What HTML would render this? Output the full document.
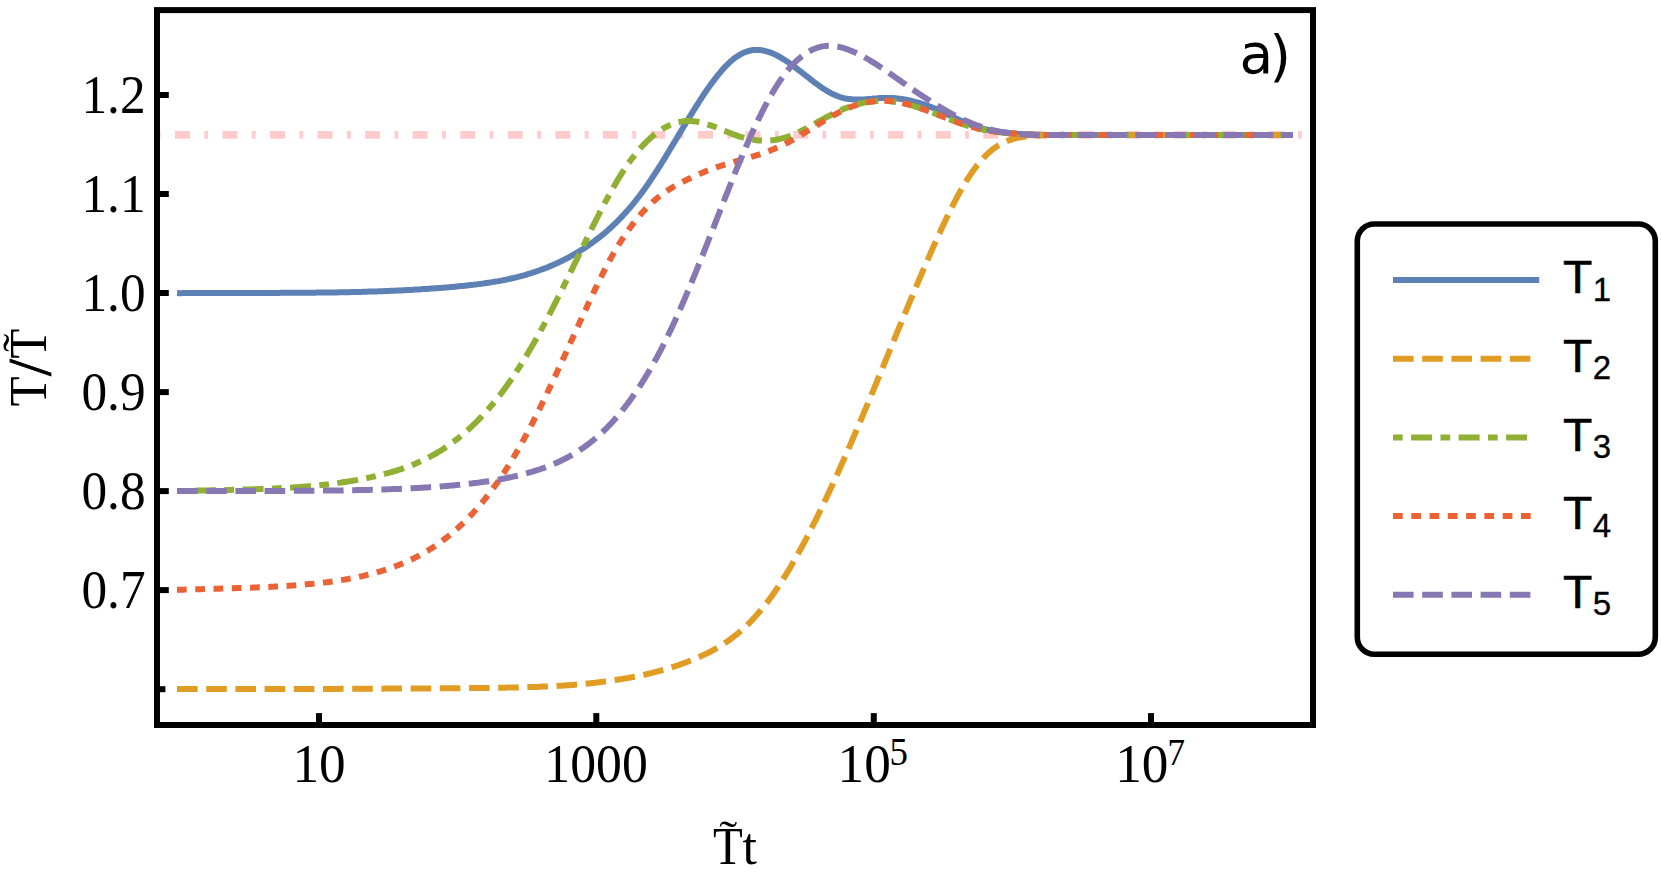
<!DOCTYPE html>
<html><head><meta charset="utf-8"><title>Temperature relaxation plot</title>
<style>
html,body{margin:0;padding:0;background:#fff;}
body{width:1661px;height:879px;overflow:hidden;}
svg{display:block;}
.serif{font-family:"Liberation Serif",serif;fill:#000;}
.sans{font-family:"Liberation Sans",sans-serif;fill:#000;}
</style></head>
<body>
<svg width="1661" height="879" viewBox="0 0 1661 879">
<rect x="0" y="0" width="1661" height="879" fill="#fff"/>
<!-- reference line -->
<g id="refline"><line x1="156.8" y1="134.9" x2="1316" y2="134.9" stroke="#ffcccc" stroke-width="7.6" stroke-dasharray="3.75 14.4 15 14.4"/></g>
<!-- curves -->
<g id="curves" fill="none" stroke-width="6" stroke-linejoin="round">
<!--CURVES-->
<path id="c-blue" d="M177.0 293.1L179.0 293.2 181.0 293.2 183.0 293.1 185.0 293.1 187.0 293.1 189.0 293.1 191.0 293.1 193.0 293.1 195.0 293.0 197.0 293.0 199.0 293.0 201.0 293.0 203.0 293.0 205.0 293.0 207.0 293.0 209.0 293.0 211.0 293.0 213.0 292.9 215.0 292.9 217.0 292.9 219.0 292.9 221.0 292.9 223.0 292.9 225.0 292.9 227.0 292.9 229.0 292.9 231.0 292.9 233.0 292.9 235.0 292.9 237.0 292.9 239.0 292.9 241.0 292.9 243.0 292.9 245.0 292.9 247.0 292.9 249.0 292.9 251.0 292.9 253.0 292.9 255.0 292.9 257.0 292.9 259.0 292.9 261.0 292.9 263.0 292.9 265.0 292.9 267.0 292.9 269.0 292.9 271.0 292.9 273.0 292.9 275.0 292.9 277.0 292.9 279.0 292.9 281.0 292.8 283.0 292.8 285.0 292.8 287.0 292.8 289.0 292.8 291.0 292.8 293.0 292.8 295.0 292.8 297.0 292.8 299.0 292.8 301.0 292.8 303.0 292.8 305.0 292.7 307.0 292.7 309.0 292.7 311.0 292.7 313.0 292.7 315.0 292.7 317.0 292.6 319.0 292.6 321.0 292.6 323.0 292.6 325.0 292.6 327.0 292.5 329.0 292.5 331.0 292.5 333.0 292.4 335.0 292.4 337.0 292.4 339.0 292.3 341.0 292.3 343.0 292.3 345.0 292.2 347.0 292.2 349.0 292.2 351.0 292.1 353.0 292.1 355.0 292.0 357.0 292.0 359.0 291.9 361.0 291.9 363.0 291.8 365.0 291.8 367.0 291.7 369.0 291.6 371.0 291.6 373.0 291.5 375.0 291.4 377.0 291.4 379.0 291.3 381.0 291.2 383.0 291.2 385.0 291.1 387.0 291.0 389.0 290.9 391.0 290.8 393.0 290.8 395.0 290.7 397.0 290.6 399.0 290.5 401.0 290.4 403.0 290.3 405.0 290.2 407.0 290.1 409.0 290.0 410.9 289.9 412.9 289.7 414.9 289.6 416.9 289.5 418.9 289.4 420.9 289.3 422.9 289.1 424.9 289.0 426.9 288.9 428.9 288.7 430.9 288.6 432.9 288.5 434.9 288.3 436.9 288.2 438.9 288.0 440.9 287.9 442.9 287.7 444.9 287.5 446.9 287.4 448.9 287.2 450.8 287.0 452.8 286.9 454.8 286.7 456.8 286.5 458.8 286.3 460.8 286.1 462.8 285.9 464.8 285.7 466.8 285.5 468.8 285.3 470.8 285.1 472.7 284.9 474.7 284.6 476.7 284.4 478.7 284.1 480.7 283.9 482.7 283.6 484.6 283.3 486.6 283.0 488.6 282.7 490.6 282.4 492.5 282.1 494.5 281.8 496.5 281.4 498.5 281.1 500.4 280.7 502.4 280.4 504.4 280.0 506.3 279.6 508.3 279.1 510.2 278.7 512.2 278.3 514.1 277.8 516.1 277.3 518.0 276.9 519.9 276.4 521.9 275.8 523.8 275.3 525.7 274.8 527.6 274.2 529.6 273.6 531.5 273.0 533.4 272.4 535.3 271.8 537.2 271.1 539.0 270.5 540.9 269.8 542.8 269.1 544.7 268.4 546.5 267.7 548.4 266.9 550.2 266.1 552.1 265.4 553.9 264.6 555.7 263.8 557.6 262.9 559.4 262.1 561.2 261.2 563.0 260.3 564.8 259.4 566.5 258.5 568.3 257.6 570.1 256.6 571.8 255.7 573.6 254.7 575.3 253.7 577.0 252.7 578.7 251.6 580.4 250.6 582.1 249.5 583.8 248.5 585.5 247.4 587.1 246.3 588.8 245.1 590.4 244.0 592.1 242.8 593.7 241.6 595.3 240.5 596.9 239.2 598.5 238.0 600.0 236.8 601.6 235.5 603.1 234.3 604.7 233.0 606.2 231.7 607.7 230.4 609.2 229.0 610.7 227.7 612.1 226.3 613.6 225.0 615.0 223.6 616.5 222.2 617.9 220.8 619.3 219.3 620.7 217.9 622.1 216.4 623.4 215.0 624.8 213.5 626.1 212.0 627.4 210.5 628.8 209.0 630.1 207.5 631.4 206.0 632.6 204.5 633.9 202.9 635.2 201.4 636.4 199.8 637.6 198.2 638.9 196.6 640.1 195.0 641.3 193.4 642.5 191.8 643.6 190.2 644.8 188.6 646.0 187.0 647.1 185.3 648.3 183.7 649.4 182.0 650.5 180.4 651.6 178.7 652.7 177.0 653.8 175.4 654.9 173.7 656.0 172.0 657.1 170.3 658.2 168.6 659.2 167.0 660.3 165.3 661.4 163.6 662.4 161.9 663.5 160.2 664.5 158.5 665.6 156.8 666.6 155.1 667.6 153.3 668.7 151.6 669.7 149.9 670.7 148.2 671.8 146.5 672.8 144.8 673.8 143.1 674.9 141.4 675.9 139.6 676.9 137.9 677.9 136.2 679.0 134.5 680.0 132.8 681.0 131.1 682.1 129.3 683.1 127.6 684.1 125.9 685.2 124.2 686.2 122.5 687.2 120.8 688.3 119.1 689.3 117.4 690.4 115.7 691.4 114.0 692.5 112.3 693.5 110.6 694.6 108.9 695.6 107.2 696.7 105.5 697.8 103.8 698.9 102.1 699.9 100.4 701.0 98.8 702.1 97.1 703.2 95.4 704.3 93.8 705.5 92.1 706.6 90.4 707.7 88.8 708.9 87.2 710.0 85.5 711.2 83.9 712.4 82.3 713.6 80.7 714.8 79.1 716.0 77.5 717.3 76.0 718.5 74.4 719.8 72.9 721.1 71.3 722.4 69.8 723.7 68.3 725.1 66.9 726.5 65.4 727.9 64.0 729.4 62.6 730.8 61.3 732.3 60.0 733.9 58.7 735.5 57.5 737.1 56.4 738.8 55.3 740.5 54.3 742.3 53.3 744.1 52.5 746.0 51.8 747.9 51.2 749.8 50.7 751.7 50.3 753.7 50.1 755.7 50.0 757.7 49.9 759.7 50.1 761.7 50.3 763.6 50.6 765.6 51.1 767.5 51.6 769.4 52.2 771.3 52.9 773.1 53.6 775.0 54.5 776.8 55.3 778.5 56.3 780.3 57.2 782.0 58.3 783.7 59.3 785.4 60.4 787.0 61.5 788.7 62.6 790.3 63.8 792.0 65.0 793.6 66.1 795.2 67.3 796.8 68.6 798.3 69.8 799.9 71.0 801.5 72.2 803.1 73.5 804.6 74.7 806.2 75.9 807.8 77.2 809.4 78.4 810.9 79.6 812.5 80.9 814.1 82.1 815.7 83.3 817.3 84.4 819.0 85.6 820.6 86.8 822.2 87.9 823.9 89.0 825.6 90.1 827.3 91.1 829.0 92.1 830.8 93.1 832.6 94.0 834.4 94.8 836.2 95.6 838.1 96.4 839.9 97.0 841.9 97.6 843.8 98.1 845.7 98.5 847.7 98.9 849.7 99.1 851.7 99.3 853.7 99.5 855.7 99.5 857.7 99.6 859.7 99.5 861.7 99.5 863.7 99.4 865.7 99.2 867.7 99.1 869.6 98.9 871.6 98.8 873.6 98.6 875.6 98.4 877.6 98.3 879.6 98.1 881.6 98.0 883.6 98.0 885.6 97.9 887.6 97.9 889.6 97.9 891.6 98.0 893.6 98.1 895.6 98.3 897.6 98.5 899.6 98.7 901.6 99.0 903.5 99.3 905.5 99.6 907.5 100.0 909.4 100.4 911.4 100.8 913.3 101.3 915.2 101.8 917.2 102.3 919.1 102.9 921.0 103.5 922.9 104.1 924.8 104.7 926.7 105.4 928.6 106.1 930.4 106.8 932.3 107.6 934.1 108.3 936.0 109.1 937.8 109.9 939.6 110.7 941.5 111.6 943.3 112.4 945.1 113.3 946.9 114.1 948.7 115.0 950.5 115.8 952.3 116.7 954.1 117.5 955.9 118.4 957.7 119.2 959.6 120.1 961.4 120.9 963.2 121.7 965.0 122.5 966.9 123.2 968.7 124.0 970.6 124.7 972.5 125.4 974.4 126.1 976.3 126.7 978.2 127.3 980.1 127.9 982.0 128.4 984.0 128.9 985.9 129.3 987.9 129.8 989.8 130.2 991.8 130.6 993.8 130.9 995.7 131.3 997.7 131.6 999.7 131.9 1001.7 132.1 1003.6 132.4 1005.6 132.6 1007.6 132.8 1009.6 133.1 1011.6 133.3 1013.6 133.4 1015.6 133.6 1017.6 133.8 1019.6 133.9 1021.6 134.1 1023.6 134.2 1025.6 134.3 1027.6 134.4 1029.6 134.5 1031.5 134.6 1033.5 134.7 1035.5 134.7 1037.5 134.8 1039.5 134.8 1041.5 134.9 1043.5 134.9 1045.5 134.9 1047.5 134.9 1049.5 134.9 1051.5 134.9 1053.5 134.9 1055.5 134.9 1057.5 134.9 1059.5 134.9 1061.5 134.9 1063.5 134.9 1065.5 134.9 1067.5 134.9 1069.5 134.9 1071.5 134.9 1073.5 134.9 1075.5 134.9 1077.5 134.9 1079.5 134.9 1081.5 134.9 1293.0 134.9" stroke="#5e81b5"/>
<path id="c-orange" d="M177.0 689.1L179.0 689.1 181.0 689.1 183.0 689.1 185.0 689.1 187.0 689.1 189.0 689.1 191.0 689.1 193.0 689.1 195.0 689.1 197.0 689.1 199.0 689.1 201.0 689.1 203.0 689.1 205.0 689.1 207.0 689.1 209.0 689.1 211.0 689.1 213.0 689.1 215.0 689.1 217.0 689.1 219.0 689.1 221.0 689.1 223.0 689.1 225.0 689.1 227.0 689.1 229.0 689.1 231.0 689.1 233.0 689.1 235.0 689.1 237.0 689.1 239.0 689.1 241.0 689.1 243.0 689.1 245.0 689.1 247.0 689.1 249.0 689.1 251.0 689.1 253.0 689.1 255.0 689.1 257.0 689.1 259.0 689.0 261.0 689.0 263.0 689.0 265.0 689.0 267.0 689.0 269.0 689.0 271.0 689.0 273.0 689.0 275.0 689.0 277.0 689.0 279.0 689.0 281.0 689.0 283.0 689.0 285.0 689.0 287.0 689.0 289.0 689.0 291.0 689.0 293.0 689.0 295.0 689.0 297.0 689.0 299.0 689.0 301.0 689.0 303.0 689.0 305.0 689.0 307.0 689.0 309.0 688.9 311.0 688.9 313.0 688.9 315.0 688.9 317.0 688.9 319.0 688.9 321.0 688.9 323.0 688.9 325.0 688.9 327.0 688.9 329.0 688.9 331.0 688.9 333.0 688.9 335.0 688.9 337.0 688.9 339.0 688.9 341.0 688.8 343.0 688.8 345.0 688.8 347.0 688.8 349.0 688.8 351.0 688.8 353.0 688.8 355.0 688.8 357.0 688.8 359.0 688.8 361.0 688.8 363.0 688.8 365.0 688.7 367.0 688.7 369.0 688.7 371.0 688.7 373.0 688.7 375.0 688.7 377.0 688.7 379.0 688.7 381.0 688.7 383.0 688.7 385.0 688.6 387.0 688.6 389.0 688.6 391.0 688.6 393.0 688.6 395.0 688.6 397.0 688.6 399.0 688.6 401.0 688.6 403.0 688.5 405.0 688.5 407.0 688.5 409.0 688.5 411.0 688.5 413.0 688.5 415.0 688.5 417.0 688.5 419.0 688.4 421.0 688.4 423.0 688.4 425.0 688.4 427.0 688.4 429.0 688.4 431.0 688.4 433.0 688.4 435.0 688.3 437.0 688.3 439.0 688.3 441.0 688.3 443.0 688.3 445.0 688.3 447.0 688.2 449.0 688.2 451.0 688.2 453.0 688.2 455.0 688.2 457.0 688.2 459.0 688.2 461.0 688.1 463.0 688.1 465.0 688.1 467.0 688.1 469.0 688.1 471.0 688.0 473.0 688.0 475.0 688.0 477.0 688.0 479.0 688.0 481.0 688.0 483.0 687.9 485.0 687.9 487.0 687.9 489.0 687.9 491.0 687.9 493.0 687.8 495.0 687.8 497.0 687.8 499.0 687.8 501.0 687.7 503.0 687.7 505.0 687.7 507.0 687.6 509.0 687.6 511.0 687.6 513.0 687.5 515.0 687.5 517.0 687.5 519.0 687.4 521.0 687.4 523.0 687.3 525.0 687.3 527.0 687.2 529.0 687.1 531.0 687.1 533.0 687.0 535.0 686.9 537.0 686.9 539.0 686.8 541.0 686.7 543.0 686.6 545.0 686.6 547.0 686.5 549.0 686.4 551.0 686.3 553.0 686.2 555.0 686.1 557.0 685.9 559.0 685.8 561.0 685.7 563.0 685.6 564.9 685.4 566.9 685.3 568.9 685.2 570.9 685.0 572.9 684.9 574.9 684.7 576.9 684.5 578.9 684.4 580.9 684.2 582.9 684.0 584.9 683.8 586.9 683.6 588.9 683.4 590.8 683.2 592.8 683.0 594.8 682.8 596.8 682.5 598.8 682.3 600.8 682.0 602.8 681.8 604.7 681.5 606.7 681.3 608.7 681.0 610.7 680.7 612.7 680.4 614.7 680.1 616.6 679.8 618.6 679.5 620.6 679.2 622.6 678.9 624.5 678.5 626.5 678.2 628.5 677.9 630.4 677.5 632.4 677.1 634.4 676.7 636.3 676.4 638.3 676.0 640.2 675.5 642.2 675.1 644.1 674.7 646.1 674.3 648.0 673.8 650.0 673.3 651.9 672.9 653.9 672.4 655.8 671.9 657.7 671.4 659.7 670.9 661.6 670.3 663.5 669.8 665.5 669.2 667.4 668.7 669.3 668.1 671.2 667.5 673.1 666.9 675.0 666.3 676.9 665.6 678.8 665.0 680.7 664.3 682.6 663.6 684.4 663.0 686.3 662.3 688.2 661.5 690.0 660.8 691.9 660.1 693.7 659.3 695.6 658.5 697.4 657.8 699.3 657.0 701.1 656.1 702.9 655.3 704.7 654.4 706.5 653.6 708.3 652.7 710.1 651.8 711.9 650.8 713.6 649.9 715.4 648.9 717.1 647.9 718.8 646.9 720.5 645.8 722.2 644.8 723.9 643.7 725.6 642.6 727.2 641.5 728.8 640.3 730.5 639.2 732.1 638.0 733.7 636.7 735.2 635.5 736.8 634.3 738.3 633.0 739.9 631.7 741.4 630.4 742.9 629.1 744.4 627.7 745.8 626.4 747.3 625.0 748.7 623.6 750.1 622.2 751.5 620.7 752.9 619.3 754.2 617.8 755.6 616.3 756.9 614.8 758.2 613.3 759.5 611.8 760.8 610.3 762.1 608.8 763.4 607.2 764.6 605.6 765.8 604.1 767.1 602.5 768.3 600.9 769.4 599.3 770.6 597.7 771.8 596.0 773.0 594.4 774.1 592.8 775.2 591.1 776.4 589.5 777.5 587.8 778.6 586.1 779.7 584.5 780.8 582.8 781.9 581.1 782.9 579.4 784.0 577.7 785.0 576.0 786.1 574.3 787.1 572.6 788.2 570.9 789.2 569.2 790.2 567.5 791.2 565.7 792.2 564.0 793.2 562.3 794.2 560.5 795.2 558.8 796.2 557.1 797.2 555.3 798.1 553.6 799.1 551.8 800.1 550.1 801.0 548.3 802.0 546.5 802.9 544.8 803.9 543.0 804.8 541.3 805.7 539.5 806.7 537.7 807.6 535.9 808.5 534.2 809.4 532.4 810.3 530.6 811.2 528.8 812.1 527.0 813.0 525.2 813.9 523.5 814.8 521.7 815.7 519.9 816.6 518.1 817.5 516.3 818.4 514.5 819.3 512.7 820.1 510.9 821.0 509.1 821.9 507.3 822.7 505.5 823.6 503.7 824.4 501.9 825.3 500.1 826.2 498.3 827.0 496.5 827.9 494.6 828.7 492.8 829.5 491.0 830.4 489.2 831.2 487.4 832.1 485.6 832.9 483.8 833.7 481.9 834.6 480.1 835.4 478.3 836.2 476.5 837.0 474.7 837.9 472.8 838.7 471.0 839.5 469.2 840.3 467.4 841.1 465.5 841.9 463.7 842.8 461.9 843.6 460.0 844.4 458.2 845.2 456.4 846.0 454.6 846.8 452.7 847.6 450.9 848.4 449.1 849.2 447.2 850.0 445.4 850.8 443.6 851.6 441.7 852.4 439.9 853.2 438.0 853.9 436.2 854.7 434.4 855.5 432.5 856.3 430.7 857.1 428.9 857.9 427.0 858.7 425.2 859.4 423.3 860.2 421.5 861.0 419.6 861.8 417.8 862.6 416.0 863.3 414.1 864.1 412.3 864.9 410.4 865.7 408.6 866.4 406.7 867.2 404.9 868.0 403.1 868.7 401.2 869.5 399.4 870.3 397.5 871.1 395.7 871.8 393.8 872.6 392.0 873.4 390.1 874.1 388.3 874.9 386.4 875.7 384.6 876.4 382.7 877.2 380.9 877.9 379.0 878.7 377.2 879.5 375.3 880.2 373.5 881.0 371.6 881.8 369.8 882.5 367.9 883.3 366.1 884.0 364.2 884.8 362.4 885.6 360.5 886.3 358.7 887.1 356.8 887.8 355.0 888.6 353.1 889.4 351.3 890.1 349.4 890.9 347.6 891.6 345.7 892.4 343.9 893.2 342.0 893.9 340.2 894.7 338.3 895.4 336.5 896.2 334.6 897.0 332.8 897.7 330.9 898.5 329.1 899.2 327.3 900.0 325.4 900.8 323.6 901.5 321.7 902.3 319.9 903.1 318.0 903.8 316.2 904.6 314.3 905.4 312.5 906.1 310.6 906.9 308.8 907.7 306.9 908.4 305.1 909.2 303.2 910.0 301.4 910.7 299.5 911.5 297.7 912.3 295.9 913.1 294.0 913.8 292.2 914.6 290.3 915.4 288.5 916.2 286.6 916.9 284.8 917.7 283.0 918.5 281.1 919.3 279.3 920.1 277.4 920.9 275.6 921.6 273.8 922.4 271.9 923.2 270.1 924.0 268.2 924.8 266.4 925.6 264.6 926.4 262.7 927.2 260.9 928.0 259.1 928.8 257.2 929.6 255.4 930.4 253.6 931.2 251.7 932.0 249.9 932.8 248.1 933.6 246.2 934.4 244.4 935.3 242.6 936.1 240.8 936.9 238.9 937.7 237.1 938.5 235.3 939.4 233.5 940.2 231.7 941.0 229.8 941.9 228.0 942.7 226.2 943.6 224.4 944.4 222.6 945.3 220.8 946.1 219.0 947.0 217.2 947.8 215.4 948.7 213.6 949.6 211.8 950.5 210.0 951.4 208.2 952.3 206.4 953.2 204.6 954.1 202.8 955.0 201.1 955.9 199.3 956.9 197.5 957.8 195.8 958.8 194.0 959.7 192.2 960.7 190.5 961.7 188.8 962.7 187.0 963.7 185.3 964.7 183.6 965.8 181.9 966.8 180.2 967.9 178.5 969.0 176.8 970.1 175.2 971.2 173.5 972.4 171.9 973.5 170.2 974.7 168.6 975.9 167.0 977.1 165.4 978.4 163.9 979.6 162.3 980.9 160.8 982.3 159.3 983.6 157.8 985.0 156.4 986.4 154.9 987.8 153.6 989.3 152.2 990.8 150.9 992.4 149.6 993.9 148.4 995.6 147.3 997.2 146.1 998.9 145.1 1000.7 144.1 1002.4 143.2 1004.2 142.3 1006.1 141.5 1007.9 140.7 1009.8 140.1 1011.7 139.4 1013.6 138.9 1015.5 138.4 1017.5 137.9 1019.4 137.5 1021.4 137.2 1023.4 136.9 1025.4 136.6 1027.4 136.4 1029.3 136.2 1031.3 136.0 1033.3 135.8 1035.3 135.6 1037.3 135.5 1039.3 135.4 1041.3 135.3 1043.3 135.2 1045.3 135.2 1047.3 135.1 1049.3 135.1 1051.3 135.0 1053.3 135.0 1055.3 135.0 1057.3 135.0 1059.3 135.0 1061.3 135.0 1063.3 135.0 1065.3 135.0 1067.3 135.0 1069.3 135.0 1071.3 135.0 1073.3 134.9 1075.3 134.9 1077.3 134.9 1079.3 134.9 1081.3 134.9 1293.0 134.9" stroke="#e19c24" stroke-dasharray="20.6 8.6"/>
<path id="c-green" d="M177.0 491.1L179.0 491.1 181.0 491.1 183.0 491.0 185.0 491.0 187.0 490.9 189.0 490.8 191.0 490.8 193.0 490.7 195.0 490.7 197.0 490.6 199.0 490.6 201.0 490.5 203.0 490.5 205.0 490.5 207.0 490.4 209.0 490.4 211.0 490.3 213.0 490.3 215.0 490.2 217.0 490.2 219.0 490.1 221.0 490.1 223.0 490.1 225.0 490.0 227.0 490.0 229.0 489.9 231.0 489.9 233.0 489.8 235.0 489.8 237.0 489.7 239.0 489.7 241.0 489.6 243.0 489.6 245.0 489.5 247.0 489.5 249.0 489.4 251.0 489.4 253.0 489.3 255.0 489.2 257.0 489.2 259.0 489.1 261.0 489.0 263.0 488.9 265.0 488.9 267.0 488.8 269.0 488.7 271.0 488.6 273.0 488.5 275.0 488.4 277.0 488.3 279.0 488.2 281.0 488.1 282.9 488.0 284.9 487.9 286.9 487.8 288.9 487.7 290.9 487.6 292.9 487.4 294.9 487.3 296.9 487.2 298.9 487.0 300.9 486.9 302.9 486.7 304.9 486.5 306.9 486.4 308.9 486.2 310.9 486.0 312.9 485.9 314.9 485.7 316.8 485.5 318.8 485.3 320.8 485.1 322.8 484.9 324.8 484.6 326.8 484.4 328.8 484.2 330.8 483.9 332.7 483.7 334.7 483.4 336.7 483.2 338.7 482.9 340.7 482.6 342.7 482.3 344.6 482.0 346.6 481.7 348.6 481.4 350.6 481.1 352.5 480.8 354.5 480.4 356.5 480.1 358.4 479.7 360.4 479.3 362.4 479.0 364.3 478.6 366.3 478.2 368.2 477.8 370.2 477.4 372.2 476.9 374.1 476.5 376.1 476.0 378.0 475.6 379.9 475.1 381.9 474.6 383.8 474.1 385.8 473.6 387.7 473.1 389.6 472.6 391.5 472.0 393.5 471.5 395.4 470.9 397.3 470.3 399.2 469.7 401.1 469.1 403.0 468.4 404.9 467.7 406.8 467.1 408.6 466.4 410.5 465.7 412.4 464.9 414.2 464.2 416.0 463.4 417.9 462.6 419.7 461.8 421.5 461.0 423.3 460.1 425.1 459.2 426.9 458.3 428.7 457.4 430.5 456.5 432.2 455.5 434.0 454.6 435.7 453.6 437.4 452.6 439.2 451.5 440.9 450.5 442.6 449.4 444.2 448.3 445.9 447.2 447.6 446.1 449.2 445.0 450.8 443.8 452.4 442.6 454.0 441.4 455.6 440.2 457.2 439.0 458.8 437.8 460.3 436.5 461.9 435.2 463.4 433.9 464.9 432.6 466.4 431.3 467.9 430.0 469.4 428.6 470.9 427.3 472.3 425.9 473.8 424.5 475.2 423.1 476.6 421.7 478.0 420.3 479.4 418.9 480.8 417.4 482.2 416.0 483.6 414.5 484.9 413.0 486.2 411.6 487.6 410.1 488.9 408.5 490.2 407.0 491.5 405.5 492.8 404.0 494.0 402.4 495.3 400.9 496.6 399.3 497.8 397.8 499.0 396.2 500.3 394.6 501.5 393.0 502.7 391.4 503.9 389.8 505.0 388.2 506.2 386.6 507.4 384.9 508.5 383.3 509.7 381.7 510.8 380.0 512.0 378.4 513.1 376.7 514.2 375.1 515.3 373.4 516.4 371.7 517.5 370.0 518.6 368.4 519.6 366.7 520.7 365.0 521.8 363.3 522.8 361.6 523.9 359.9 524.9 358.2 525.9 356.5 527.0 354.8 528.0 353.0 529.0 351.3 530.0 349.6 531.0 347.9 532.0 346.1 533.0 344.4 534.0 342.7 535.0 340.9 536.0 339.2 537.0 337.4 537.9 335.7 538.9 333.9 539.9 332.2 540.8 330.4 541.8 328.7 542.7 326.9 543.7 325.2 544.6 323.4 545.6 321.6 546.5 319.9 547.4 318.1 548.4 316.3 549.3 314.5 550.2 312.8 551.1 311.0 552.1 309.2 553.0 307.4 553.9 305.7 554.8 303.9 555.7 302.1 556.6 300.3 557.5 298.5 558.4 296.7 559.3 295.0 560.2 293.2 561.1 291.4 562.0 289.6 562.9 287.8 563.8 286.0 564.7 284.2 565.5 282.4 566.4 280.6 567.3 278.8 568.2 277.0 569.1 275.2 569.9 273.4 570.8 271.6 571.7 269.8 572.6 268.0 573.4 266.2 574.3 264.4 575.2 262.6 576.1 260.8 576.9 259.0 577.8 257.2 578.7 255.4 579.5 253.6 580.4 251.8 581.3 250.0 582.2 248.2 583.0 246.4 583.9 244.7 584.8 242.9 585.7 241.1 586.5 239.3 587.4 237.5 588.3 235.7 589.2 233.9 590.1 232.1 591.0 230.3 591.8 228.5 592.7 226.7 593.6 224.9 594.5 223.1 595.4 221.3 596.3 219.5 597.2 217.8 598.1 216.0 599.0 214.2 599.9 212.4 600.8 210.6 601.8 208.8 602.7 207.1 603.6 205.3 604.5 203.5 605.5 201.8 606.4 200.0 607.4 198.2 608.3 196.5 609.3 194.7 610.2 193.0 611.2 191.2 612.2 189.5 613.2 187.7 614.2 186.0 615.2 184.3 616.2 182.5 617.2 180.8 618.2 179.1 619.3 177.4 620.3 175.7 621.4 174.0 622.4 172.3 623.5 170.6 624.6 169.0 625.7 167.3 626.9 165.7 628.0 164.0 629.2 162.4 630.3 160.8 631.5 159.2 632.7 157.6 634.0 156.0 635.2 154.4 636.5 152.8 637.7 151.3 639.0 149.8 640.3 148.3 641.7 146.8 643.0 145.3 644.4 143.9 645.8 142.4 647.2 141.0 648.7 139.7 650.1 138.3 651.6 137.0 653.2 135.7 654.7 134.4 656.3 133.2 657.9 132.0 659.6 130.9 661.2 129.8 662.9 128.7 664.7 127.7 666.4 126.8 668.2 125.9 670.0 125.1 671.9 124.3 673.7 123.6 675.6 123.0 677.6 122.4 679.5 122.0 681.5 121.6 683.4 121.3 685.4 121.1 687.4 121.0 689.4 121.0 691.4 121.0 693.4 121.2 695.4 121.4 697.4 121.7 699.3 122.1 701.3 122.5 703.2 123.0 705.1 123.6 707.0 124.2 708.9 124.8 710.8 125.4 712.7 126.1 714.6 126.8 716.4 127.5 718.3 128.3 720.2 129.0 722.0 129.8 723.9 130.6 725.7 131.3 727.6 132.1 729.4 132.8 731.3 133.5 733.1 134.3 735.0 134.9 736.9 135.6 738.8 136.3 740.7 136.9 742.6 137.4 744.6 138.0 746.5 138.4 748.4 138.9 750.4 139.3 752.4 139.6 754.3 139.9 756.3 140.2 758.3 140.4 760.3 140.5 762.3 140.6 764.3 140.6 766.3 140.6 768.3 140.5 770.3 140.4 772.3 140.2 774.3 140.0 776.2 139.7 778.2 139.3 780.2 138.9 782.1 138.4 784.0 137.9 785.9 137.3 787.8 136.7 789.7 136.0 791.6 135.3 793.4 134.5 795.3 133.7 797.1 132.9 798.9 132.0 800.7 131.2 802.5 130.3 804.3 129.4 806.1 128.4 807.8 127.5 809.6 126.5 811.3 125.6 813.1 124.6 814.8 123.6 816.6 122.7 818.3 121.7 820.1 120.7 821.8 119.8 823.6 118.8 825.3 117.8 827.1 116.9 828.9 116.0 830.6 115.1 832.4 114.1 834.2 113.3 836.0 112.4 837.8 111.5 839.7 110.7 841.5 109.9 843.3 109.1 845.2 108.4 847.0 107.7 848.9 107.0 850.8 106.3 852.7 105.7 854.6 105.1 856.5 104.5 858.5 104.0 860.4 103.5 862.3 103.0 864.3 102.6 866.3 102.3 868.2 101.9 870.2 101.7 872.2 101.4 874.2 101.2 876.2 101.1 878.2 101.0 880.2 100.9 882.2 100.9 884.2 100.9 886.2 101.0 888.2 101.1 890.2 101.2 892.2 101.4 894.1 101.7 896.1 101.9 898.1 102.3 900.1 102.6 902.0 103.0 904.0 103.4 905.9 103.9 907.9 104.4 909.8 104.9 911.7 105.4 913.6 106.0 915.5 106.6 917.5 107.2 919.4 107.8 921.2 108.5 923.1 109.1 925.0 109.8 926.9 110.5 928.8 111.2 930.6 111.9 932.5 112.6 934.4 113.3 936.2 114.0 938.1 114.8 940.0 115.5 941.8 116.2 943.7 117.0 945.5 117.7 947.4 118.4 949.3 119.2 951.1 119.9 953.0 120.6 954.9 121.3 956.7 122.0 958.6 122.7 960.5 123.4 962.4 124.0 964.3 124.7 966.2 125.3 968.1 125.9 970.0 126.5 971.9 127.0 973.9 127.6 975.8 128.1 977.7 128.6 979.7 129.0 981.6 129.4 983.6 129.8 985.6 130.2 987.5 130.6 989.5 130.9 991.5 131.2 993.4 131.5 995.4 131.8 997.4 132.1 999.4 132.3 1001.4 132.5 1003.4 132.7 1005.4 132.9 1007.4 133.1 1009.3 133.3 1011.3 133.5 1013.3 133.6 1015.3 133.8 1017.3 133.9 1019.3 134.0 1021.3 134.2 1023.3 134.3 1025.3 134.4 1027.3 134.4 1029.3 134.5 1031.3 134.6 1033.3 134.7 1035.3 134.7 1037.3 134.8 1039.3 134.8 1041.3 134.9 1043.3 134.9 1045.3 134.9 1047.3 134.9 1049.3 134.9 1051.3 134.9 1053.3 134.9 1055.3 134.9 1057.3 134.9 1059.3 134.9 1061.3 134.9 1063.3 134.9 1065.3 134.9 1067.3 134.9 1069.3 134.9 1071.3 134.9 1073.3 134.9 1075.3 134.9 1077.3 134.9 1079.3 134.9 1081.3 134.9 1293.0 134.9" stroke="#8fb032" stroke-dasharray="9.7 8.4 21 8.4"/>
<path id="c-red" d="M177.0 589.8L179.0 589.8 181.0 589.8 183.0 589.7 185.0 589.6 187.0 589.6 189.0 589.5 191.0 589.5 193.0 589.4 195.0 589.3 197.0 589.3 199.0 589.2 201.0 589.2 203.0 589.1 205.0 589.0 207.0 589.0 209.0 588.9 211.0 588.9 213.0 588.8 215.0 588.8 217.0 588.7 219.0 588.7 221.0 588.6 223.0 588.6 225.0 588.5 227.0 588.4 229.0 588.4 231.0 588.3 233.0 588.3 235.0 588.2 237.0 588.1 239.0 588.1 241.0 588.0 243.0 587.9 245.0 587.9 247.0 587.8 249.0 587.7 251.0 587.7 253.0 587.6 255.0 587.5 257.0 587.4 259.0 587.3 261.0 587.3 263.0 587.2 265.0 587.1 267.0 587.0 268.9 586.9 270.9 586.8 272.9 586.7 274.9 586.6 276.9 586.5 278.9 586.4 280.9 586.2 282.9 586.1 284.9 586.0 286.9 585.9 288.9 585.7 290.9 585.6 292.9 585.4 294.9 585.3 296.9 585.1 298.9 585.0 300.9 584.8 302.9 584.7 304.9 584.5 306.9 584.3 308.9 584.1 310.8 583.9 312.8 583.8 314.8 583.6 316.8 583.3 318.8 583.1 320.8 582.9 322.8 582.7 324.8 582.4 326.7 582.2 328.7 581.9 330.7 581.7 332.7 581.4 334.7 581.1 336.7 580.8 338.6 580.5 340.6 580.2 342.6 579.9 344.6 579.6 346.5 579.2 348.5 578.9 350.5 578.5 352.4 578.2 354.4 577.8 356.3 577.4 358.3 577.0 360.3 576.5 362.2 576.1 364.2 575.6 366.1 575.2 368.0 574.7 370.0 574.2 371.9 573.7 373.8 573.2 375.8 572.7 377.7 572.1 379.6 571.6 381.5 571.0 383.4 570.4 385.4 569.8 387.3 569.2 389.2 568.5 391.0 567.9 392.9 567.2 394.8 566.5 396.7 565.8 398.5 565.1 400.4 564.3 402.2 563.6 404.1 562.8 405.9 562.0 407.7 561.2 409.6 560.3 411.4 559.5 413.2 558.6 415.0 557.7 416.7 556.8 418.5 555.9 420.3 554.9 422.0 554.0 423.8 553.0 425.5 552.0 427.2 551.0 428.9 549.9 430.6 548.8 432.3 547.8 434.0 546.7 435.6 545.6 437.3 544.4 438.9 543.3 440.5 542.1 442.1 540.9 443.7 539.7 445.3 538.5 446.9 537.3 448.5 536.0 450.0 534.8 451.6 533.5 453.1 532.2 454.6 530.9 456.1 529.6 457.6 528.3 459.1 526.9 460.5 525.5 462.0 524.2 463.4 522.8 464.9 521.4 466.3 520.0 467.7 518.5 469.1 517.1 470.5 515.7 471.8 514.2 473.2 512.7 474.5 511.3 475.9 509.8 477.2 508.3 478.5 506.8 479.8 505.2 481.1 503.7 482.4 502.2 483.6 500.6 484.9 499.1 486.1 497.5 487.4 495.9 488.6 494.4 489.8 492.8 491.0 491.2 492.2 489.6 493.4 488.0 494.6 486.3 495.8 484.7 496.9 483.1 498.1 481.4 499.2 479.8 500.3 478.2 501.4 476.5 502.6 474.8 503.7 473.2 504.8 471.5 505.8 469.8 506.9 468.1 508.0 466.4 509.1 464.7 510.1 463.0 511.2 461.3 512.2 459.6 513.2 457.9 514.2 456.2 515.3 454.5 516.3 452.7 517.3 451.0 518.3 449.3 519.2 447.5 520.2 445.8 521.2 444.1 522.2 442.3 523.1 440.5 524.1 438.8 525.0 437.0 526.0 435.3 526.9 433.5 527.9 431.7 528.8 430.0 529.7 428.2 530.7 426.4 531.6 424.6 532.5 422.9 533.4 421.1 534.3 419.3 535.2 417.5 536.1 415.7 537.0 413.9 537.9 412.2 538.8 410.4 539.7 408.6 540.5 406.8 541.4 405.0 542.3 403.2 543.2 401.4 544.1 399.6 544.9 397.8 545.8 396.0 546.7 394.2 547.5 392.4 548.4 390.6 549.2 388.8 550.1 387.0 550.9 385.1 551.8 383.3 552.6 381.5 553.5 379.7 554.3 377.9 555.2 376.1 556.0 374.3 556.9 372.5 557.7 370.6 558.5 368.8 559.4 367.0 560.2 365.2 561.1 363.4 561.9 361.6 562.7 359.7 563.6 357.9 564.4 356.1 565.2 354.3 566.1 352.5 566.9 350.7 567.7 348.8 568.5 347.0 569.4 345.2 570.2 343.4 571.0 341.5 571.9 339.7 572.7 337.9 573.5 336.1 574.3 334.3 575.2 332.4 576.0 330.6 576.8 328.8 577.6 327.0 578.5 325.2 579.3 323.3 580.1 321.5 581.0 319.7 581.8 317.9 582.6 316.1 583.5 314.2 584.3 312.4 585.1 310.6 586.0 308.8 586.8 307.0 587.6 305.2 588.5 303.3 589.3 301.5 590.1 299.7 591.0 297.9 591.8 296.1 592.7 294.3 593.6 292.5 594.4 290.7 595.3 288.9 596.1 287.1 597.0 285.3 597.9 283.5 598.7 281.7 599.6 279.9 600.5 278.1 601.4 276.3 602.3 274.5 603.2 272.7 604.1 270.9 605.0 269.1 605.9 267.4 606.9 265.6 607.8 263.8 608.8 262.1 609.7 260.3 610.7 258.5 611.6 256.8 612.6 255.1 613.6 253.3 614.6 251.6 615.6 249.9 616.6 248.1 617.7 246.4 618.7 244.7 619.7 243.0 620.8 241.3 621.9 239.6 623.0 238.0 624.1 236.3 625.2 234.6 626.3 233.0 627.5 231.3 628.6 229.7 629.8 228.1 631.0 226.5 632.2 224.9 633.4 223.3 634.6 221.7 635.8 220.1 637.1 218.6 638.4 217.0 639.7 215.5 641.0 214.0 642.3 212.5 643.7 211.0 645.0 209.6 646.4 208.1 647.8 206.7 649.2 205.3 650.7 203.9 652.2 202.6 653.6 201.2 655.1 199.9 656.7 198.6 658.2 197.3 659.8 196.1 661.4 194.9 663.0 193.7 664.6 192.6 666.3 191.4 667.9 190.3 669.6 189.2 671.3 188.2 673.0 187.1 674.8 186.1 676.5 185.2 678.3 184.2 680.0 183.2 681.8 182.3 683.6 181.4 685.4 180.5 687.1 179.6 688.9 178.7 690.7 177.9 692.6 177.0 694.4 176.2 696.2 175.4 698.0 174.5 699.9 173.7 701.7 173.0 703.5 172.2 705.4 171.4 707.2 170.7 709.1 170.0 711.0 169.3 712.9 168.6 714.7 167.9 716.6 167.2 718.5 166.6 720.4 166.0 722.3 165.4 724.2 164.8 726.1 164.2 728.1 163.6 730.0 163.0 731.9 162.5 733.8 161.9 735.7 161.4 737.7 160.8 739.6 160.3 741.5 159.7 743.4 159.2 745.4 158.6 747.3 158.1 749.2 157.5 751.1 156.9 753.0 156.4 754.9 155.8 756.9 155.2 758.8 154.6 760.7 153.9 762.6 153.3 764.4 152.6 766.3 152.0 768.2 151.3 770.1 150.6 771.9 149.8 773.8 149.1 775.6 148.3 777.5 147.5 779.3 146.7 781.1 145.9 782.9 145.0 784.7 144.1 786.5 143.2 788.3 142.3 790.0 141.3 791.8 140.4 793.5 139.4 795.2 138.4 797.0 137.4 798.7 136.4 800.4 135.4 802.1 134.3 803.8 133.3 805.5 132.2 807.2 131.2 808.9 130.1 810.6 129.1 812.3 128.0 814.0 127.0 815.7 125.9 817.4 124.9 819.1 123.8 820.9 122.8 822.6 121.7 824.3 120.7 826.0 119.7 827.7 118.6 829.4 117.6 831.2 116.7 832.9 115.7 834.7 114.7 836.4 113.8 838.2 112.8 840.0 111.9 841.8 111.0 843.6 110.2 845.4 109.3 847.2 108.5 849.1 107.7 850.9 107.0 852.8 106.3 854.7 105.6 856.6 105.0 858.5 104.4 860.4 103.8 862.3 103.3 864.3 102.8 866.2 102.4 868.2 102.1 870.2 101.7 872.1 101.5 874.1 101.2 876.1 101.0 878.1 100.9 880.1 100.8 882.1 100.8 884.1 100.8 886.1 100.8 888.1 100.9 890.1 101.1 892.1 101.3 894.1 101.5 896.0 101.8 898.0 102.1 900.0 102.5 901.9 102.9 903.9 103.3 905.8 103.8 907.8 104.3 909.7 104.8 911.6 105.4 913.5 106.0 915.5 106.6 917.4 107.2 919.2 107.8 921.1 108.5 923.0 109.1 924.9 109.8 926.8 110.5 928.7 111.2 930.5 111.9 932.4 112.6 934.3 113.4 936.1 114.1 938.0 114.8 939.8 115.5 941.7 116.3 943.6 117.0 945.4 117.7 947.3 118.5 949.2 119.2 951.0 119.9 952.9 120.6 954.8 121.3 956.7 122.0 958.5 122.6 960.4 123.3 962.3 124.0 964.2 124.6 966.1 125.2 968.0 125.8 969.9 126.4 971.9 126.9 973.8 127.4 975.7 128.0 977.7 128.4 979.6 128.9 981.6 129.3 983.5 129.7 985.5 130.1 987.5 130.5 989.4 130.8 991.4 131.1 993.4 131.4 995.4 131.7 997.3 132.0 999.3 132.2 1001.3 132.5 1003.3 132.7 1005.3 132.9 1007.3 133.1 1009.3 133.3 1011.3 133.4 1013.3 133.6 1015.3 133.8 1017.2 133.9 1019.2 134.0 1021.2 134.1 1023.2 134.3 1025.2 134.4 1027.2 134.4 1029.2 134.5 1031.2 134.6 1033.2 134.7 1035.2 134.7 1037.2 134.8 1039.2 134.8 1041.2 134.9 1043.2 134.9 1045.2 134.9 1047.2 134.9 1049.2 134.9 1051.2 134.9 1053.2 134.9 1055.2 134.9 1057.2 134.9 1059.2 134.9 1061.2 134.9 1063.2 134.9 1065.2 134.9 1067.2 134.9 1069.2 134.9 1071.2 134.9 1073.2 134.9 1075.2 134.9 1077.2 134.9 1079.2 134.9 1081.2 134.9 1293.0 134.9" stroke="#eb6235" stroke-dasharray="9.7 8.58"/>
<path id="c-purple" d="M177.0 491.1L179.0 491.1 181.0 491.1 183.0 491.1 185.0 491.1 187.0 491.1 189.0 491.1 191.0 491.1 193.0 491.1 195.0 491.1 197.0 491.1 199.0 491.1 201.0 491.1 203.0 491.1 205.0 491.1 207.0 491.1 209.0 491.1 211.0 491.1 213.0 491.1 215.0 491.1 217.0 491.1 219.0 491.1 221.0 491.1 223.0 491.1 225.0 491.1 227.0 491.1 229.0 491.1 231.0 491.1 233.0 491.1 235.0 491.1 237.0 491.1 239.0 491.1 241.0 491.1 243.0 491.1 245.0 491.1 247.0 491.1 249.0 491.1 251.0 491.0 253.0 491.0 255.0 491.0 257.0 491.0 259.0 491.0 261.0 491.0 263.0 491.0 265.0 491.0 267.0 491.0 269.0 491.0 271.0 491.0 273.0 491.0 275.0 491.0 277.0 490.9 279.0 490.9 281.0 490.9 283.0 490.9 285.0 490.9 287.0 490.9 289.0 490.9 291.0 490.9 293.0 490.9 295.0 490.8 297.0 490.8 299.0 490.8 301.0 490.8 303.0 490.8 305.0 490.8 307.0 490.8 309.0 490.7 311.0 490.7 313.0 490.7 315.0 490.7 317.0 490.7 319.0 490.6 321.0 490.6 323.0 490.6 325.0 490.6 327.0 490.6 329.0 490.5 331.0 490.5 333.0 490.5 335.0 490.5 337.0 490.4 339.0 490.4 341.0 490.4 343.0 490.4 345.0 490.3 347.0 490.3 349.0 490.3 351.0 490.2 353.0 490.2 355.0 490.2 357.0 490.1 359.0 490.1 361.0 490.1 363.0 490.0 365.0 490.0 367.0 489.9 369.0 489.9 371.0 489.8 373.0 489.8 375.0 489.7 377.0 489.7 379.0 489.6 381.0 489.5 383.0 489.5 385.0 489.4 387.0 489.3 389.0 489.3 391.0 489.2 393.0 489.1 395.0 489.1 397.0 489.0 399.0 488.9 401.0 488.8 403.0 488.7 405.0 488.6 407.0 488.5 409.0 488.4 411.0 488.3 413.0 488.2 415.0 488.1 417.0 488.0 419.0 487.9 420.9 487.8 422.9 487.7 424.9 487.5 426.9 487.4 428.9 487.3 430.9 487.1 432.9 487.0 434.9 486.9 436.9 486.7 438.9 486.6 440.9 486.4 442.9 486.2 444.9 486.1 446.9 485.9 448.9 485.7 450.9 485.6 452.9 485.4 454.8 485.2 456.8 485.0 458.8 484.8 460.8 484.6 462.8 484.4 464.8 484.2 466.8 484.0 468.8 483.8 470.8 483.6 472.8 483.3 474.7 483.1 476.7 482.9 478.7 482.6 480.7 482.3 482.7 482.1 484.7 481.8 486.6 481.5 488.6 481.2 490.6 480.9 492.6 480.6 494.5 480.3 496.5 480.0 498.5 479.6 500.4 479.3 502.4 478.9 504.4 478.5 506.3 478.1 508.3 477.7 510.3 477.3 512.2 476.9 514.2 476.4 516.1 476.0 518.1 475.5 520.0 475.0 521.9 474.5 523.9 474.0 525.8 473.5 527.7 473.0 529.6 472.4 531.6 471.9 533.5 471.3 535.4 470.7 537.3 470.1 539.2 469.5 541.1 468.8 543.0 468.2 544.9 467.5 546.7 466.8 548.6 466.1 550.5 465.3 552.3 464.6 554.2 463.8 556.0 463.0 557.8 462.2 559.6 461.4 561.4 460.5 563.2 459.6 565.0 458.7 566.8 457.8 568.6 456.8 570.3 455.9 572.0 454.9 573.8 453.9 575.5 452.8 577.2 451.8 578.9 450.7 580.5 449.6 582.2 448.5 583.8 447.3 585.5 446.2 587.1 445.0 588.7 443.8 590.3 442.6 591.8 441.3 593.4 440.1 594.9 438.8 596.4 437.5 597.9 436.2 599.4 434.9 600.9 433.5 602.4 432.2 603.8 430.8 605.3 429.4 606.7 428.0 608.1 426.5 609.5 425.1 610.8 423.7 612.2 422.2 613.6 420.7 614.9 419.2 616.2 417.7 617.5 416.2 618.8 414.7 620.1 413.1 621.4 411.6 622.6 410.0 623.9 408.5 625.1 406.9 626.3 405.3 627.5 403.7 628.7 402.1 629.9 400.5 631.1 398.9 632.2 397.3 633.4 395.6 634.5 394.0 635.7 392.3 636.8 390.7 637.9 389.0 639.0 387.4 640.1 385.7 641.2 384.0 642.3 382.3 643.3 380.6 644.4 378.9 645.4 377.2 646.5 375.5 647.5 373.8 648.5 372.1 649.5 370.4 650.5 368.6 651.5 366.9 652.5 365.2 653.5 363.4 654.5 361.7 655.4 359.9 656.4 358.2 657.4 356.4 658.3 354.6 659.2 352.9 660.2 351.1 661.1 349.3 662.0 347.6 662.9 345.8 663.8 344.0 664.7 342.2 665.6 340.4 666.5 338.6 667.4 336.8 668.3 335.0 669.1 333.2 670.0 331.4 670.9 329.6 671.7 327.8 672.6 326.0 673.4 324.2 674.2 322.4 675.1 320.5 675.9 318.7 676.7 316.9 677.5 315.1 678.4 313.2 679.2 311.4 680.0 309.6 680.8 307.8 681.6 305.9 682.4 304.1 683.2 302.3 684.0 300.4 684.8 298.6 685.5 296.7 686.3 294.9 687.1 293.1 687.9 291.2 688.7 289.4 689.4 287.5 690.2 285.7 691.0 283.8 691.7 282.0 692.5 280.1 693.3 278.3 694.0 276.4 694.8 274.6 695.5 272.7 696.3 270.9 697.0 269.0 697.8 267.2 698.5 265.3 699.3 263.5 700.0 261.6 700.8 259.8 701.5 257.9 702.2 256.0 703.0 254.2 703.7 252.3 704.5 250.5 705.2 248.6 705.9 246.7 706.7 244.9 707.4 243.0 708.1 241.2 708.9 239.3 709.6 237.4 710.3 235.6 711.1 233.7 711.8 231.9 712.5 230.0 713.3 228.1 714.0 226.3 714.7 224.4 715.4 222.5 716.2 220.7 716.9 218.8 717.6 217.0 718.3 215.1 719.1 213.2 719.8 211.4 720.5 209.5 721.3 207.6 722.0 205.8 722.7 203.9 723.5 202.1 724.2 200.2 724.9 198.3 725.6 196.5 726.4 194.6 727.1 192.8 727.9 190.9 728.6 189.0 729.3 187.2 730.1 185.3 730.8 183.5 731.5 181.6 732.3 179.7 733.0 177.9 733.8 176.0 734.5 174.2 735.3 172.3 736.0 170.5 736.8 168.6 737.6 166.8 738.3 164.9 739.1 163.1 739.8 161.2 740.6 159.4 741.4 157.5 742.2 155.7 742.9 153.8 743.7 152.0 744.5 150.2 745.3 148.3 746.1 146.5 746.9 144.7 747.7 142.8 748.5 141.0 749.3 139.2 750.1 137.3 750.9 135.5 751.7 133.7 752.6 131.9 753.4 130.0 754.2 128.2 755.1 126.4 755.9 124.6 756.8 122.8 757.6 121.0 758.5 119.2 759.4 117.4 760.3 115.6 761.2 113.8 762.0 112.0 763.0 110.2 763.9 108.5 764.8 106.7 765.7 104.9 766.7 103.1 767.6 101.4 768.6 99.6 769.5 97.9 770.5 96.1 771.5 94.4 772.5 92.7 773.6 91.0 774.6 89.2 775.6 87.5 776.7 85.9 777.8 84.2 778.9 82.5 780.0 80.8 781.1 79.2 782.3 77.5 783.4 75.9 784.6 74.3 785.9 72.7 787.1 71.2 788.4 69.6 789.6 68.1 791.0 66.6 792.3 65.1 793.7 63.7 795.1 62.2 796.5 60.8 798.0 59.5 799.5 58.2 801.0 56.9 802.6 55.7 804.2 54.5 805.9 53.3 807.5 52.3 809.3 51.3 811.0 50.3 812.8 49.5 814.7 48.7 816.5 48.0 818.4 47.4 820.4 46.9 822.3 46.4 824.3 46.1 826.3 45.9 828.3 45.8 830.3 45.8 832.3 45.9 834.3 46.1 836.2 46.4 838.2 46.7 840.2 47.1 842.1 47.6 844.0 48.2 845.9 48.8 847.8 49.4 849.7 50.2 851.5 50.9 853.4 51.7 855.2 52.5 857.0 53.4 858.8 54.2 860.6 55.2 862.3 56.1 864.1 57.0 865.8 58.0 867.6 59.0 869.3 60.0 871.0 61.1 872.7 62.1 874.4 63.2 876.1 64.2 877.8 65.3 879.5 66.4 881.1 67.5 882.8 68.6 884.4 69.8 886.1 70.9 887.7 72.0 889.4 73.2 891.0 74.3 892.7 75.4 894.3 76.6 895.9 77.7 897.6 78.9 899.2 80.0 900.8 81.2 902.5 82.4 904.1 83.5 905.8 84.6 907.4 85.8 909.0 86.9 910.7 88.1 912.3 89.2 914.0 90.3 915.6 91.5 917.3 92.6 918.9 93.7 920.6 94.8 922.3 95.9 923.9 97.0 925.6 98.1 927.3 99.2 929.0 100.3 930.6 101.4 932.3 102.4 934.0 103.5 935.7 104.6 937.4 105.6 939.2 106.6 940.9 107.7 942.6 108.7 944.3 109.7 946.1 110.7 947.8 111.7 949.6 112.6 951.3 113.6 953.1 114.5 954.8 115.5 956.6 116.4 958.4 117.3 960.2 118.1 962.0 119.0 963.8 119.9 965.6 120.7 967.5 121.5 969.3 122.3 971.1 123.1 973.0 123.8 974.9 124.5 976.7 125.2 978.6 125.9 980.5 126.6 982.4 127.2 984.3 127.8 986.2 128.4 988.2 128.9 990.1 129.4 992.0 129.9 994.0 130.4 995.9 130.8 997.9 131.2 999.8 131.6 1001.8 132.0 1003.8 132.3 1005.8 132.6 1007.7 132.9 1009.7 133.2 1011.7 133.4 1013.7 133.6 1015.7 133.8 1017.7 134.0 1019.7 134.2 1021.7 134.3 1023.7 134.4 1025.7 134.5 1027.7 134.6 1029.7 134.7 1031.6 134.8 1033.6 134.9 1035.6 134.9 1037.6 134.9 1039.6 134.9 1041.6 134.9 1043.6 134.9 1045.6 134.9 1047.6 134.9 1049.6 134.9 1051.6 134.9 1053.6 134.9 1055.6 134.9 1057.6 134.9 1059.6 134.9 1061.6 134.9 1063.6 134.9 1065.6 134.9 1067.6 134.9 1069.6 134.9 1071.6 134.9 1073.6 134.9 1075.6 134.9 1077.6 134.9 1079.6 134.9 1081.6 134.9 1293.0 134.9" stroke="#8778b3" stroke-dasharray="20.6 8.6"/>
<!--/CURVES-->
</g>
<!-- frame -->
<rect x="157" y="10.1" width="1156" height="714.9" fill="none" stroke="#000" stroke-width="6"/>
<!-- ticks -->
<g id="ticks" stroke="#000" stroke-width="6">
<line x1="160" y1="95" x2="168.8" y2="95"/>
<line x1="160" y1="194" x2="168.8" y2="194"/>
<line x1="160" y1="293" x2="168.8" y2="293"/>
<line x1="160" y1="392.1" x2="168.8" y2="392.1"/>
<line x1="160" y1="491.1" x2="168.8" y2="491.1"/>
<line x1="160" y1="590.1" x2="168.8" y2="590.1"/>
<line x1="160" y1="689.2" x2="165.4" y2="689.2"/>
<line x1="319" y1="722" x2="319" y2="713.1"/>
<line x1="596.3" y1="722" x2="596.3" y2="713.1"/>
<line x1="873.8" y1="722" x2="873.8" y2="713.1"/>
<line x1="1151" y1="722" x2="1151" y2="713.1"/>
</g>
<!-- y labels -->
<g class="serif" font-size="54.6" text-anchor="end">
<text transform="translate(145.6,113.1) scale(0.94,1)">1.2</text>
<text transform="translate(145.6,212.1) scale(0.94,1)">1.1</text>
<text transform="translate(145.6,311.1) scale(0.94,1)">1.0</text>
<text transform="translate(145.6,410.2) scale(0.94,1)">0.9</text>
<text transform="translate(145.6,509.2) scale(0.94,1)">0.8</text>
<text transform="translate(145.6,608.2) scale(0.94,1)">0.7</text>
</g>
<!-- x labels -->
<g class="serif" font-size="54.6">
<text transform="translate(319,781.7) scale(0.975,1)" text-anchor="middle">10</text>
<text transform="translate(596.1,781.7) scale(0.948,1)" text-anchor="middle">1000</text>
<text transform="translate(837.6,781.7) scale(0.975,1)">10</text>
<text transform="translate(889.5,765) scale(0.9,1)" font-size="41">5</text>
<text transform="translate(1115.2,781.7) scale(0.975,1)">10</text>
<text transform="translate(1167.5,764.6) scale(0.9,1)" font-size="38.8">7</text>
</g>
<!-- axis titles -->
<g class="serif" font-size="53.2">
<text transform="translate(712.9,863.9) scale(0.915,1)">T</text>
<text transform="translate(719.3,850.2) scale(1,0.8)" font-size="54">˜</text>
<text x="742.6" y="863.9" font-size="52">t</text>
<g transform="translate(45.5,405.5) rotate(-90)">
<text transform="translate(-0.8,0) scale(0.915,1)">T</text>
<text transform="translate(29.6,4.6)" font-size="61" stroke="#000" stroke-width="0.8">/</text>
<text transform="translate(46.9,0) scale(0.915,1)">T</text>
<text transform="translate(53.7,-13.2) scale(1,0.8)" font-size="54">˜</text>
</g>
</g>
<!-- panel label -->
<g font-size="55" style="font-family:'DejaVu Sans',sans-serif" fill="#000"><text x="1239.5" y="73">a</text><text x="1269.6" y="75">)</text></g>
<!-- legend -->
<g id="legend">
<rect x="1357.3" y="224" width="298" height="430.2" rx="17" ry="17" fill="#fff" stroke="#000" stroke-width="5.6"/>
<g fill="none" stroke-width="6">
<line x1="1393" y1="280" x2="1539.2" y2="280" stroke="#5e81b5"/>
<line x1="1393" y1="358.7" x2="1531" y2="358.7" stroke="#e19c24" stroke-dasharray="20.6 8.6"/>
<line x1="1393" y1="437.4" x2="1527.2" y2="437.4" stroke="#8fb032" stroke-dasharray="9.7 8.4 21 8.4"/>
<line x1="1393" y1="516.1" x2="1531" y2="516.1" stroke="#eb6235" stroke-dasharray="9.7 8.58"/>
<line x1="1393" y1="594.8" x2="1531" y2="594.8" stroke="#8778b3" stroke-dasharray="20.6 8.6"/>
</g>
<g class="sans" font-size="46" stroke="#000" stroke-width="0.5">
<text transform="translate(1562.9,293.2) scale(1.045,1)">T</text><text x="1592.8" y="300.5" font-size="33" stroke-width="0.3">1</text>
<text transform="translate(1562.9,371.9) scale(1.045,1)">T</text><text x="1592.8" y="379.2" font-size="33" stroke-width="0.3">2</text>
<text transform="translate(1562.9,450.6) scale(1.045,1)">T</text><text x="1592.8" y="457.9" font-size="33" stroke-width="0.3">3</text>
<text transform="translate(1562.9,529.3) scale(1.045,1)">T</text><text x="1592.8" y="536.6" font-size="33" stroke-width="0.3">4</text>
<text transform="translate(1562.9,608.0) scale(1.045,1)">T</text><text x="1592.8" y="615.3" font-size="33" stroke-width="0.3">5</text>
</g>
</g>
</svg>
</body></html>
